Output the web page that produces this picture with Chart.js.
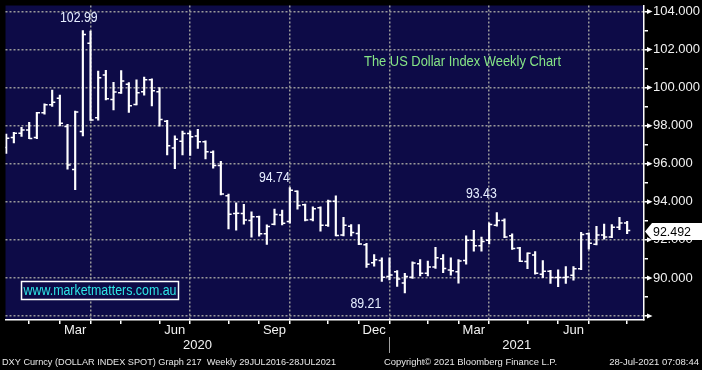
<!DOCTYPE html>
<html>
<head>
<meta charset="utf-8">
<script src="https://cdn.jsdelivr.net/npm/chart.js@4/dist/chart.umd.min.js"></script>
<style>
  html, body { margin: 0; padding: 0; background: #000; }
</style>
</head>
<body>
<canvas id="dxyChart" width="702" height="370"></canvas>
<script>
const NAVY = '#0d0b47';
const GRID = '#9a9a9a';
const FONT = '"Liberation Sans", Arial, sans-serif';

// weekly bars, the first one is the week ending Fri 10 Jan 2020
const firstFriday = Date.UTC(2020, 0, 10);

const openPx = [96.85, 97.38, 97.60, 97.77, 97.38, 98.67, 99.10, 99.44, 97.95, 95.69,
  97.69, 102.33, 98.41, 100.66, 99.37, 99.73, 100.17, 99.11, 99.78, 100.41,
  99.78, 98.23, 96.82, 97.18, 97.59, 97.46, 97.15, 96.60, 95.90, 94.32,
  93.38, 93.38, 93.01, 93.21, 92.32, 92.82, 93.30, 92.96, 94.55, 93.85,
  93.07, 93.69, 92.77, 94.03, 92.26, 92.72, 92.34, 91.74, 90.80, 90.92,
  90.07, 90.32, 89.73, 90.03, 90.75, 90.24, 90.58, 91.01, 90.41, 90.32,
  90.92, 91.98, 91.69, 91.98, 92.77, 93.01, 92.21, 91.57, 90.86, 91.20,
  90.19, 90.35, 90.02, 90.02, 90.14, 90.48, 92.32, 91.77, 92.25, 92.15,
  92.66, 92.89];
const highPx = [97.55, 97.65, 97.91, 98.17, 98.70, 99.15, 99.87, 99.61, 98.07, 98.77,
  102.99, 102.96, 100.87, 100.90, 100.28, 100.89, 100.26, 100.41, 100.55, 100.46,
  100.00, 98.28, 97.46, 97.71, 97.71, 97.80, 97.20, 96.68, 96.12, 94.41,
  93.95, 93.86, 93.47, 93.25, 92.79, 93.61, 93.56, 94.74, 94.58, 93.88,
  93.73, 93.74, 94.09, 94.31, 93.18, 92.80, 92.80, 91.82, 91.23, 91.05,
  91.06, 90.38, 90.24, 90.84, 90.96, 90.89, 91.61, 91.23, 91.06, 90.96,
  92.21, 92.50, 92.15, 92.89, 93.43, 93.11, 92.32, 91.61, 91.32, 91.39,
  90.91, 90.40, 90.43, 90.60, 90.60, 92.40, 92.37, 92.71, 92.83, 92.80,
  93.18, 92.97];
const lowPx = [96.54, 97.09, 97.43, 97.31, 97.31, 98.60, 99.01, 97.99, 95.71, 94.63,
  97.46, 98.27, 98.29, 99.35, 98.82, 99.69, 98.69, 99.09, 99.60, 99.04,
  97.97, 96.46, 95.74, 96.46, 96.43, 96.80, 96.25, 95.77, 94.36, 92.58,
  92.51, 92.82, 92.14, 92.19, 91.76, 92.79, 92.79, 92.87, 93.61, 93.00,
  93.00, 92.46, 92.70, 92.20, 92.21, 92.21, 91.75, 90.55, 90.62, 89.81,
  89.90, 89.56, 89.21, 89.98, 90.10, 90.10, 90.50, 90.27, 90.15, 89.73,
  90.72, 91.40, 91.40, 91.78, 92.72, 92.12, 91.50, 90.85, 90.48, 90.20,
  90.02, 89.71, 89.54, 89.71, 89.88, 90.43, 91.51, 91.74, 92.03, 92.12,
  92.54, 92.32];
const closePx = [97.34, 97.60, 97.77, 97.33, 98.67, 99.10, 99.23, 98.12, 95.93, 98.72,
  102.79, 98.29, 100.52, 99.41, 99.76, 100.34, 99.05, 99.73, 100.41, 99.83,
  98.32, 96.94, 97.29, 97.59, 97.42, 97.15, 96.63, 95.91, 94.41, 93.35,
  93.40, 93.04, 93.21, 92.32, 92.70, 93.33, 92.87, 94.60, 93.81, 93.04,
  93.64, 92.77, 94.03, 92.23, 92.77, 92.38, 91.78, 90.72, 90.96, 90.03,
  90.15, 89.95, 90.07, 90.79, 90.24, 90.58, 91.06, 90.50, 90.38, 90.89,
  91.98, 91.69, 91.91, 92.80, 93.01, 92.15, 91.55, 90.88, 91.29, 90.24,
  90.35, 90.02, 90.02, 90.05, 90.48, 92.28, 91.82, 92.25, 92.15, 92.66,
  92.89, 92.492];

const priceLevels = [88, 89, 90, 91, 92, 93, 94, 95, 96, 97, 98, 99, 100, 101, 102, 103, 104];
const priceLabels = [90, 92, 94, 96, 98, 100, 102, 104];
const monthNames = ['Jan', 'Feb', 'Mar', 'Apr', 'May', 'Jun', 'Jul', 'Aug', 'Sep', 'Oct', 'Nov', 'Dec'];
const quarterMonths = [2, 5, 8, 11];
const years = ['2020', '2021'];

const X_MIN = -0.09, X_MAX = 83.2;
const Y_MIN = 87.79, Y_MAX = 104.31;
const TICK_OFF = 0.2;

const weekDates = openPx.map((_, i) => new Date(firstFriday + i * 7 * 86400000));

// last bar of every month gets a tick mark
const monthEnds = [];
weekDates.forEach((d, i) => {
    const next = weekDates[i + 1];
    if (!next || next.getUTCMonth() !== d.getUTCMonth()) monthEnds.push(i);
});

// quarter months are labelled in the middle of the month, gridline at its end
const xLabels = new Map();
const gridBars = new Set();
monthEnds.forEach((idx, k) => {
    const m = weekDates[idx].getUTCMonth();
    if (k > 0 && quarterMonths.includes(m)) {
        xLabels.set((monthEnds[k - 1] + idx) / 2, monthNames[m]);
        gridBars.add(idx);
    }
});

const yearEnds = monthEnds.filter(i => weekDates[i].getUTCMonth() === 11 && i < openPx.length - 1);
const yearBounds = [X_MIN, ...yearEnds, X_MAX];
years.forEach((yr, k) => {
    xLabels.set((yearBounds[k] + yearBounds[k + 1]) / 2, ['', yr]);
});

const xTickValues = [...new Set([...monthEnds, ...xLabels.keys()])].sort((a, b) => a - b);

const callouts = [
    { bar: 10, series: highPx, dx: -4, dy: -12.5 },
    { bar: 37, series: highPx, dx: -15.5, dy: -10 },
    { bar: 64, series: highPx, dx: -15.5, dy: -18 },
    { bar: 52, series: lowPx, dx: -39, dy: 11 }
];

const backdrop = {
    id: 'backdrop',
    beforeDraw(chart) {
        const { ctx, chartArea: a } = chart;
        ctx.save();
        ctx.fillStyle = '#000';
        ctx.fillRect(0, 0, chart.width, chart.height);
        ctx.fillStyle = NAVY;
        ctx.fillRect(a.left, a.top, a.right - a.left, a.bottom - a.top);
        ctx.restore();
    }
};

function squeezed(ctx, text, px, py, ratio) {
    ctx.fillText(text, px, py, ctx.measureText(text).width * ratio);
}

const extras = {
    id: 'extras',
    afterDraw(chart) {
        const { ctx, chartArea: a, scales: { x, y } } = chart;
        ctx.save();

        // arrow heads on the labelled price ticks
        ctx.fillStyle = '#fff';
        y.ticks.filter(t => t.value % 2 === 0).forEach(t => {
            const py = y.getPixelForValue(t.value);
            ctx.beginPath();
            ctx.moveTo(a.right + 3, py - 2.5);
            ctx.lineTo(a.right + 8.5, py);
            ctx.lineTo(a.right + 3, py + 2.5);
            ctx.closePath();
            ctx.fill();
        });

        // year separator
        ctx.strokeStyle = '#a0a0a0';
        ctx.lineWidth = 1;
        yearEnds.forEach(i => {
            const px = Math.round(x.getPixelForValue(i)) + 0.5;
            ctx.beginPath();
            ctx.moveTo(px, a.bottom + 17);
            ctx.lineTo(px, a.bottom + 33);
            ctx.stroke();
        });

        // high / low callouts
        ctx.font = '14px ' + FONT;
        ctx.textAlign = 'center';
        ctx.textBaseline = 'middle';
        ctx.fillStyle = '#e6eeff';
        callouts.forEach(c => {
            const v = c.series[c.bar];
            squeezed(ctx, v.toFixed(2), x.getPixelForValue(c.bar) + c.dx, y.getPixelForValue(v) + c.dy, 0.88);
        });

        // chart title
        ctx.textAlign = 'left';
        ctx.fillStyle = '#86e586';
        ctx.fillText('The US Dollar Index Weekly Chart', 364, 62.5, 197);

        // watermark box
        ctx.fillStyle = NAVY;
        ctx.fillRect(21.5, 281.5, 157, 18);
        ctx.strokeStyle = '#fff';
        ctx.lineWidth = 1.5;
        ctx.strokeRect(21.5, 281.5, 157, 18);
        ctx.textAlign = 'center';
        ctx.fillStyle = '#2ee6e6';
        ctx.fillText('www.marketmatters.com.au', 100, 290.8, 153);

        // last price box
        const last = closePx[closePx.length - 1];
        const py = y.getPixelForValue(last);
        ctx.fillStyle = '#fff';
        ctx.beginPath();
        ctx.moveTo(a.right + 1, py + 1);
        ctx.lineTo(a.right + 8, py - 7.5);
        ctx.lineTo(chart.width, py - 7.5);
        ctx.lineTo(chart.width, py + 9.5);
        ctx.lineTo(a.right + 8, py + 9.5);
        ctx.closePath();
        ctx.fill();
        ctx.fillStyle = '#000';
        ctx.font = '13px ' + FONT;
        ctx.textAlign = 'left';
        ctx.fillText(last.toFixed(3), a.right + 9, py + 1.5, 38);

        // footer
        ctx.font = '9.5px ' + FONT;
        ctx.fillStyle = '#e8e8e8';
        ctx.fillText('DXY Curncy (DOLLAR INDEX SPOT) Graph 217  Weekly 29JUL2016-28JUL2021', 2, 362.5, 334);
        ctx.fillText('Copyright\u00a9 2021 Bloomberg Finance L.P.', 384, 362.5, 173);
        ctx.textAlign = 'right';
        ctx.fillText('28-Jul-2021 07:08:44', 699, 362.5, 92);

        ctx.restore();
    }
};

const tickDot = {
    type: 'line',
    showLine: false,
    pointStyle: 'line',
    pointRadius: 1.6,
    pointBorderWidth: 1.5,
    pointBorderColor: '#fff'
};

const dxyChart = new Chart(document.getElementById('dxyChart'), {
    type: 'bar',
    data: {
        datasets: [
            {
                type: 'bar',
                data: highPx.map((h, i) => ({ x: i, y: [lowPx[i], h] })),
                backgroundColor: '#fff',
                borderWidth: 0,
                barThickness: 1.5,
                grouped: false
            },
            { ...tickDot, data: openPx.map((v, i) => ({ x: i - TICK_OFF, y: v })) },
            { ...tickDot, data: closePx.map((v, i) => ({ x: i + TICK_OFF, y: v })) }
        ]
    },
    options: {
        responsive: false,
        animation: false,
        events: [],
        layout: { padding: 0 },
        plugins: {
            legend: { display: false },
            tooltip: { enabled: false }
        },
        scales: {
            x: {
                type: 'linear',
                position: 'bottom',
                min: X_MIN,
                max: X_MAX,
                offset: false,
                afterBuildTicks: s => { s.ticks = xTickValues.map(v => ({ value: v })); },
                afterFit: s => { s.height = 50; s.paddingLeft = 0; s.paddingRight = 0; },
                grid: {
                    offset: false,
                    lineWidth: 1.5,
                    color: c => (c.tick && gridBars.has(c.tick.value)) ? GRID : 'transparent',
                    tickColor: c => (c.tick && monthEnds.includes(c.tick.value)) ? '#fff' : 'transparent',
                    tickLength: 4,
                    tickWidth: 1.5
                },
                border: { color: '#fff', width: 1.5, dash: [2, 2] },
                ticks: {
                    autoSkip: false,
                    maxRotation: 0,
                    padding: -1,
                    color: '#f2f2f2',
                    font: { family: FONT, size: 13, lineHeight: '15px' },
                    callback: v => xLabels.get(v) ?? ''
                }
            },
            y: {
                type: 'linear',
                position: 'right',
                min: Y_MIN,
                max: Y_MAX,
                afterBuildTicks: s => { s.ticks = priceLevels.map(v => ({ value: v })); },
                afterFit: s => { s.width = 58; s.paddingTop = 0; s.paddingBottom = 0; },
                grid: {
                    lineWidth: 1.5,
                    color: c => (c.tick && c.tick.value % 2 === 0) ? GRID : 'transparent',
                    tickColor: '#fff',
                    tickLength: 4,
                    tickWidth: 1.5
                },
                border: { color: '#fff', width: 1.5, dash: [2, 2] },
                ticks: {
                    padding: 5,
                    color: '#f2f2f2',
                    font: { family: FONT, size: 13 },
                    callback: v => priceLabels.includes(v) ? v.toFixed(3) : ''
                }
            }
        }
    },
    plugins: [backdrop, extras]
});
</script>
</body>
</html>
